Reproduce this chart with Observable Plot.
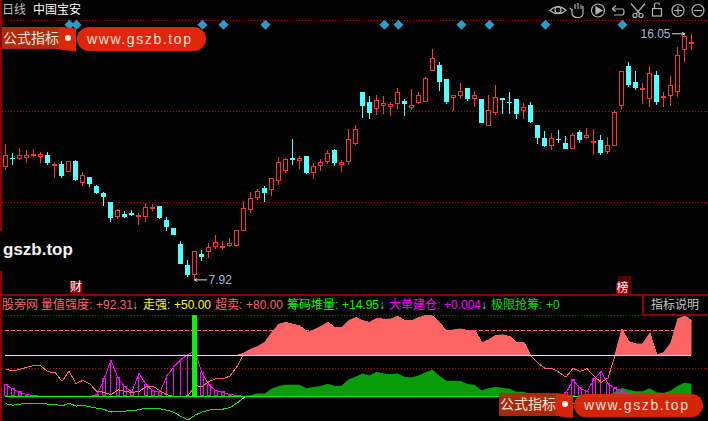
<!DOCTYPE html>
<html><head><meta charset="utf-8">
<script src="https://cdn.jsdelivr.net/npm/d3@7"></script>
<script src="https://cdn.jsdelivr.net/npm/@observablehq/plot@0.6"></script>
<style>
html,body{margin:0;padding:0;background:#000;overflow:hidden}
#wrap{position:relative;width:708px;height:421px;background:#000;overflow:hidden;font-family:"Liberation Sans","Noto Sans CJK SC",sans-serif;font-size:12px}
#upper,#lower{position:absolute;left:0}
#upper{top:0}#lower{top:295px}
svg{display:block}
.t{position:absolute;white-space:pre;line-height:14px}
.b{position:absolute}
</style></head><body><div id="wrap"><div id="upper"></div><div id="lower"></div></div>
<script>
const highs=[12.39,12.08,12.25,12.19,12.23,12.12,12.12,11.75,11.83,11.81,11.86,11.48,11.31,11.04,10.82,10.48,10.25,10.19,10.21,10.10,10.44,10.41,10.36,9.97,9.62,9.19,8.56,8.86,8.89,9.11,9.39,9.18,9.28,9.55,10.51,10.81,10.91,11.01,11.28,11.95,11.92,12.55,12.00,12.01,11.75,11.89,12.19,12.23,11.86,12.88,13.02,14.10,13.98,14.01,13.98,13.79,14.23,13.88,14.21,14.10,14.62,15.52,15.10,14.55,14.01,14.40,14.23,14.13,13.89,14.00,14.34,13.91,14.10,13.88,13.74,13.77,13.02,12.82,12.76,12.86,12.66,12.75,12.86,12.92,12.89,12.69,12.63,13.52,14.80,15.10,14.80,14.40,14.97,14.80,14.10,14.63,15.60,16.05,16.04];
const opens=[11.64,11.94,11.91,11.95,12.02,11.97,12.03,11.69,11.74,11.49,11.83,11.12,11.30,11.01,10.77,10.48,10.01,10.08,10.12,10.00,9.99,10.26,10.35,9.88,9.62,9.09,8.40,8.08,8.75,8.84,8.99,8.98,9.03,9.03,9.55,10.22,10.61,10.94,10.90,11.18,11.51,11.93,11.84,12.00,11.45,11.68,11.81,12.19,11.73,11.81,12.42,14.10,13.78,13.56,13.68,13.64,13.74,13.81,13.60,13.76,13.79,14.82,15.00,14.53,13.93,14.01,14.23,13.89,13.87,13.02,13.43,13.90,13.78,13.87,13.49,13.67,13.02,12.59,12.34,12.56,12.43,12.26,12.79,12.60,12.44,12.53,12.13,12.34,13.66,14.97,14.44,14.21,13.89,14.67,13.93,13.99,14.12,15.51,15.72];
const closes=[12.02,11.90,12.02,12.01,12.06,12.03,11.77,11.73,11.34,11.80,11.20,11.34,11.07,10.77,10.65,9.95,10.20,9.98,10.05,10.04,10.30,10.30,9.95,9.65,9.39,8.43,8.06,8.85,8.66,8.98,9.15,9.01,9.11,9.54,10.27,10.60,10.83,10.77,11.24,11.79,11.89,11.87,11.92,11.42,11.66,11.79,12.08,11.78,11.78,12.53,12.88,13.66,13.42,13.84,13.72,13.70,14.10,13.72,13.67,14.00,14.55,15.22,14.45,13.79,13.98,14.13,13.89,14.00,13.09,13.50,13.93,13.86,13.75,13.39,13.60,13.12,12.59,12.33,12.58,12.53,12.24,12.69,12.53,12.69,12.46,12.10,12.35,13.44,14.79,14.34,14.24,14.24,14.71,13.78,13.97,14.33,15.32,15.95,15.75];
const lows=[11.53,11.70,11.86,11.75,11.95,11.75,11.70,11.28,11.27,11.47,11.17,11.02,10.98,10.73,10.36,9.83,9.92,9.95,10.00,9.72,9.82,10.18,9.92,9.53,9.39,8.43,8.00,7.92,8.54,8.61,8.93,8.88,8.98,9.00,9.52,10.12,10.54,10.48,10.69,11.04,11.42,11.70,11.57,11.40,11.25,11.50,11.73,11.67,11.48,11.70,12.36,13.25,13.22,13.35,13.39,13.33,13.55,13.33,13.52,13.72,13.78,14.82,14.14,13.72,13.48,13.88,13.83,13.63,13.09,12.99,13.36,13.39,13.39,13.22,13.22,13.09,12.39,12.31,12.19,12.43,12.23,12.23,12.43,12.56,12.03,12.04,12.06,12.33,13.52,14.27,14.18,13.72,13.60,13.68,13.60,13.65,13.95,15.10,15.50];
const signalDays=[9,10,28,31,37,54,56,65,69,77,88];
const signalPrice=16.35;
const priceGrid=[16.49,13.484,10.477];
const highLabel={i:97,p:16.05};
const lowLabel={i:27,p:7.92};

const strength=[33.2,31.2,33.2,35.6,37.7,37.2,30,29.6,18.6,30.8,15.8,19.8,15,6.1,5.3,2,8.1,6.1,4.9,6.1,12.1,12.6,6.9,2,0,0,0.8,13.4,12.1,18.2,21.9,21.5,25.1,36.4,52.6,57.5,60.7,66,77.7,87.9,90.3,87.9,86.2,78.1,81,85,90.3,83.8,83.8,92.3,96.4,92.3,90.3,95.1,94.3,94.3,98,92.3,92.3,96,98.8,98,89.1,79.8,81,82.2,80.2,80.2,65.6,68.8,74.5,74.9,72.9,65.6,65.6,49.8,40.5,34.4,34,29.6,23.5,34.4,30.4,34,25.1,17,22.7,49.8,81.8,66.8,64,64,76.9,50.6,53.4,64.8,94.3,98,92.31];
const chips=[-8.9,-10.5,-9.3,-8.1,-8.1,-8.1,-9.3,-9.3,-11.7,-8.1,-11.7,-10.9,-12.6,-14.2,-15.8,-19,-17.8,-17.8,-17,-16.2,-14.2,-14.2,-15,-16.6,-19.4,-24.3,-28.7,-22.7,-19,-16.6,-15.4,-15.4,-13.4,-8.1,-1.2,0.8,3.2,2.8,8.9,12.1,13.8,13.8,13.8,9.3,10.9,12.1,15,12.6,12.6,20.2,23.5,27.5,25.1,29.6,27.5,26.7,27.5,23.5,22.7,25.1,29.1,32.4,24.3,18.6,18.6,18.2,14.6,13.8,6.9,9.3,11.3,9.7,8.9,5.3,5.3,2,0,-2,-4,-5,-6,-8,-8,-8,-8,-6,-2,5.3,9.7,7.7,5.7,5.7,9.3,4.5,3.6,6.5,12.1,16.2,14.95];
const bigOrder=[14.2,8.9,4.9,2.4,1.2,0,0,0,0,0,0,0,0,2,21,44.5,22.3,11.7,6,28.3,14.2,6.9,5.3,25.5,36.4,45.3,51,55.9,28.3,14.2,6.9,4.9,2.4,1.2,0,0,0,0,0,0,0,0,0,0,0,0,0,0,0,0,0,0,0,0,0,0,0,0,0,0,0,0,0,0,0,0,0,0,0,0,0,0,0,0,0,0,0,0,0,0,4,20.2,10,6,21,30.4,15.4,10,6,3.2,1.6,0,0,0,0,0,0,0,0.004];
const thinSticks=[15,19,23,24,25,26,27,85];
const rush=[{i:27,v:99}];
const strongLevel=50, oversoldLevel=80;
const lowerGrid=[98.8,34.1];

const N=highs.length, idx=d3.range(N);
const xDomain=[-5/7,(708-5)/7];
const RED="#ff3232", CYAN="#54ffff";
const rise=i=>closes[i]>=opens[i];
const CE={shapeRendering:"crispEdges"};

document.getElementById("upper").append(Plot.plot({
  width:708,height:294,margin:0,
  style:{background:"transparent"},
  x:{domain:xDomain,range:[0,708],axis:null},
  y:{domain:[7.437,17.151],range:[294,0],axis:null},
  marks:[
    Plot.ruleY(priceGrid,{x1:-0.4,x2:100.4,stroke:"#c00000",strokeDasharray:"1,2",...CE}),
    Plot.ruleX(idx,{x:i=>i,y1:i=>lows[i],y2:i=>highs[i],stroke:i=>rise(i)?RED:CYAN,strokeWidth:1,...CE}),
    Plot.rect(idx.filter(rise),{x1:i=>i-2/7,x2:i=>i+2/7,y1:i=>opens[i],y2:i=>closes[i],fill:"#000",stroke:RED,strokeWidth:1,dx:0.5,...CE}),
    Plot.rect(idx.filter(i=>!rise(i)),{x1:i=>i-2.5/7,x2:i=>i+2.5/7,y1:i=>opens[i],y2:i=>closes[i],fill:CYAN,dx:0.5,...CE}),
    Plot.dot(signalDays,{x:d=>d+0.14,y:()=>signalPrice,symbol:"diamond2",r:4.6,fill:"#2a9cc8",stroke:"none"}),
    Plot.arrow([highLabel],{x1:d=>d.i-12/7,x2:d=>d.i,y1:"p",y2:"p",bend:0,headLength:4,stroke:"#e0e0e0",strokeWidth:1}),
    Plot.text([highLabel],{x:"i",y:"p",text:d=>d.p.toFixed(2),dx:-14,textAnchor:"end",fill:"#a8b8d8",fontSize:12,fontFamily:"Liberation Sans"}),
    Plot.arrow([lowLabel],{x1:d=>d.i+12/7,x2:d=>d.i,y1:"p",y2:"p",bend:0,headLength:4,stroke:"#e0e0e0",strokeWidth:1}),
    Plot.text([lowLabel],{x:"i",y:"p",text:d=>d.p.toFixed(2),dx:14,textAnchor:"start",fill:"#a8b8d8",fontSize:12,fontFamily:"Liberation Sans"})
  ]
}));

const clip50=i=>Math.max(strength[i],strongLevel);
document.getElementById("lower").append(Plot.plot({
  width:708,height:126,margin:0,
  style:{background:"transparent"},
  x:{domain:xDomain,range:[0,708],axis:null},
  y:{domain:[-30.49,123.17],range:[126,0],axis:null},
  marks:[
    Plot.ruleY(lowerGrid,{x1:-0.4,x2:100.4,stroke:"#c00000",strokeDasharray:"1,2",...CE}),
    Plot.ruleY([oversoldLevel],{x1:0,x2:98,stroke:"#ff6464",strokeDasharray:"4,2",dy:-0.4,...CE}),
    Plot.areaY(idx.filter(i=>strength[i]>=strongLevel||strength[i+1]>=strongLevel||strength[i-1]>=strongLevel),{x:i=>i,y1:()=>strongLevel,y2:clip50,fill:"#ff6464",dx:0.5}),
    Plot.areaY(idx.filter(i=>chips[i]>=0||chips[i+1]>=0||chips[i-1]>=0),{x:i=>i,y1:()=>0,y2:i=>Math.max(chips[i],0),fill:"#0a9c0a",dx:0.5}),
    Plot.line(idx,{x:i=>i,y:i=>chips[i]<=0?chips[i]:NaN,stroke:"#20e020",strokeWidth:1,dx:0.5,...CE}),
    Plot.rect(idx.filter(i=>bigOrder[i]>1&&!thinSticks.includes(i)),{x1:i=>i-1.5/7,x2:i=>i+1.5/7,y1:()=>0,y2:i=>bigOrder[i],fill:"none",stroke:"#ff00ff",strokeWidth:1,dx:0.5,...CE}),
    Plot.ruleX(thinSticks,{x:i=>i,y1:()=>0,y2:i=>bigOrder[i],stroke:"#ff00ff",strokeWidth:1,...CE}),
    Plot.line(idx,{x:i=>i,y:i=>bigOrder[i],stroke:"#ff00ff",strokeWidth:1,dx:0.5,...CE}),
    Plot.line(idx,{x:i=>i,y:i=>strength[i],stroke:"#ff6464",strokeWidth:1,dx:0.5,...CE}),
    Plot.ruleY([strongLevel],{x1:0,x2:98,stroke:"#ffff40",strokeWidth:1,...CE}),
    Plot.ruleY([0],{x1:0,x2:98,stroke:"#00ff00",strokeWidth:1,...CE}),
    Plot.rect(rush,{x1:d=>d.i-2.2/7,x2:d=>d.i+2.2/7,y1:()=>0,y2:"v",fill:"#10ee10",dx:0.5,...CE})
  ]
}));

const wrap=document.getElementById("wrap");
function box(x,y,w,h,bg,extra=""){const e=document.createElement("div");e.className="b";e.style.cssText=`left:${x}px;top:${y}px;width:${w}px;height:${h}px;background:${bg};${extra}`;wrap.append(e);return e;}
function txt(s,x,cy,col,size=12,extra=""){const e=document.createElement("div");e.className="t";e.textContent=s;e.style.cssText=`left:${x}px;top:${cy-7}px;color:${col};font-size:${size}px;${extra}`;wrap.append(e);return e;}

const frame="#8b0000";
box(0,0,1.5,421,frame);
box(0,294,708,1.5,frame);
box(642,294,1.5,21,frame);
box(642,314,66,1.5,frame);

txt("日线",2,10,"#c0c0c0",12);
txt("中国宝安",33,10,"#ffffff",12);

box(0,231,76,40,"#000");
txt("gszb.top",3,250,"#f4f4f4",17,"font-weight:bold;");

box(70,280.5,12,12.5,"#8a0000");
txt("财",70,287,"#fff",12);
box(618,276,13,18,"#5a0000");
box(616,284,12,9.5,"#a00000");
txt("榜",616.5,288,"#fff",12);

const legend=[["股旁网",2,"#ff6464"],["量值强度:",41,"#ff6464"],["+92.31",96,"#ff6464"],["↓",132,"#7fdfff"],
["走强:",143,"#ffff20"],["+50.00",174,"#ffff20"],["超卖:",215,"#ff6464"],["+80.00",246,"#ff6464"],
["筹码堆量:",287,"#00ff00"],["+14.95",342,"#00ff00"],["↓",379,"#7fdfff"],
["大单建仓:",389,"#ff00ff"],["+0.004",444,"#ff00ff"],["↓",481,"#7fdfff"],
["极限抢筹:",491,"#00e000"],["+0",546,"#00e000"]];
legend.forEach(([s,x,c])=>txt(s,x,305,c,12));
txt("指标说明",651,305,"#c8c8c8",12);

function stamp(x,y,pillEnd,op){
  box(x,y,57,22.5,"#b02a10",`opacity:${op};`);
  box(x+57,y,17,25,"#e0260a",`opacity:${op};clip-path:polygon(0 0,100% 8%,100% 100%,0 92%);`);
  box(x+75,y+.5,pillEnd-(x+75),23.5,"#e0260a",`opacity:${op};border-radius:12px;`);
  txt("公式指标",x+1,y+11,"#f2e4dc",14);
  box(x+63,y+8,6,6,"#f4eeea","border-radius:3px;");
  txt("www.gszb.top",x+85,y+12,"#ffe0d8",14,"letter-spacing:1.6px;");
}
stamp(2,26.5,206,1);
stamp(499,393,703,.95);

const icons=document.createElementNS("http://www.w3.org/2000/svg","svg");
icons.setAttribute("width",160);icons.setAttribute("height",20);
icons.style.cssText="position:absolute;left:548px;top:0px";
icons.innerHTML=`<g fill="none" stroke="#b4b4b4" stroke-width="1.2">
<path d="M2 10.5 Q10 2.5 18 10.5 Q10 17 2 10.5Z"/><circle cx="10" cy="10" r="3"/>
<path d="M24 9 V14 Q25 17.5 30 17.5 Q35 17.5 35 13 V6 M27 9 V4 M30 9 V3 M33 9 V4.5 M24 11 Q23 8 21.5 8" />
<circle cx="50" cy="10.5" r="6.5"/><path d="M48 7 L54 10.5 L48 14Z" fill="#b4b4b4"/>
<path d="M64 9 H75 Q76 9 76 12 Q76 15 74 15 H66 M64 9 L68 5.5 M64 9 L68 11.5"/>
<circle cx="87" cy="15.5" r="2"/><circle cx="93" cy="15.5" r="2"/><path d="M83 3.5 L92 14 M97 3.5 L88 14"/>
<rect x="104.5" y="8.5" width="9" height="7.5"/><path d="M106.5 8 V5 Q106.5 3 109 3 Q111.5 3 111.5 5"/>
<circle cx="130" cy="10.5" r="6"/><path d="M126 10.5 H134 M130 6.5 V14.5"/>
<circle cx="150" cy="10.5" r="6"/><path d="M146 10.5 H154"/>
</g>`;
wrap.append(icons);
</script></body></html>
